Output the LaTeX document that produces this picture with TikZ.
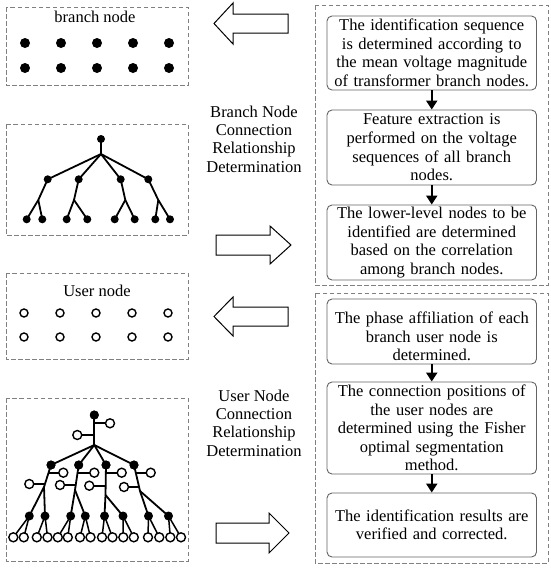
\documentclass[tikz,border=0pt]{standalone}
\usepackage{fontspec}
\setmainfont{Liberation Serif}
\usetikzlibrary{arrows.meta}
\definecolor{dashgray}{RGB}{128,128,128}
\definecolor{boxgray}{RGB}{100,100,100}
\tikzset{
  lbox/.style={draw=dashgray, line width=1pt, dash pattern=on 4.5pt off 2.5pt},
  ibox/.style={draw=boxgray, line width=0.9pt, rounded corners=5pt, minimum width=209.5pt,
    text width=205pt, align=center, inner sep=0pt, font=\fontsize{16.5}{18.6}\selectfont},
  ptext/.style={text width=205pt, align=center, inner sep=0pt, font=\fontsize{16.5}{18.6}\selectfont},
  midlabel/.style={align=center, inner sep=0pt, font=\fontsize{16.5}{18.4}\selectfont},
  title/.style={inner sep=0pt, font=\fontsize{16.5}{18.6}\selectfont},
  barrow/.style={draw=black, fill=white, line width=1pt, line join=miter},
  flow/.style={line width=2pt, -{Triangle[length=9pt,width=11pt]}},
  bigdot/.style={circle, fill=black, inner sep=0pt, minimum size=10pt},
  fdot/.style={circle, fill=black, inner sep=0pt, minimum size=8pt},
  gdot/.style={circle, fill=black, inner sep=0pt, minimum size=9pt},
  odot/.style={circle, draw=black, fill=white, line width=1.4pt, inner sep=0pt, minimum size=8pt},
  tline/.style={line width=1.8pt},
}
\begin{document}
\begin{tikzpicture}[x=1pt,y=-1pt]
\useasboundingbox (0,0) rectangle (550,568);
\fill[white] (0,0) rectangle (550,568);

% ---------- left dashed boxes ----------
\draw[lbox] (6,7) rectangle (188,85);
\draw[lbox] (6,124) rectangle (188,235);
\draw[lbox] (6,273) rectangle (188,359);
\draw[lbox] (6,398) rectangle (188,561);

% box 1: branch nodes
\node[title] (t1) at (95,17) {branch node};
\foreach \i/\x in {1/25,2/61,3/97,4/133,5/169}{
  \node[bigdot] (bn1\i) at (\x,43) {};
  \node[bigdot] (bn2\i) at (\x,68) {};
}

% box 3: user nodes
\node[title] (t3) at (97,291) {User node};
\foreach \i/\x in {1/24,2/60,3/96,4/132,5/168}{
  \node[odot] (un1\i) at (\x,313) {};
  \node[odot] (un2\i) at (\x,337) {};
}

% box 2: branch tree
\coordinate (bj) at (101,154);
\coordinate (bj1) at (38.3,200);
\coordinate (bj2) at (74,200);
\coordinate (bj3) at (125.3,200);
\coordinate (bj4) at (158.3,200);
\node[fdot] (br) at (101,139) {};
\node[fdot] (b1) at (47.7,179.3) {};
\node[fdot] (b2) at (78.7,179.3) {};
\node[fdot] (b3) at (120.7,179.3) {};
\node[fdot] (b4) at (148.3,179.3) {};
\node[fdot] (l11) at (26.7,219.3) {};
\node[fdot] (l12) at (42.3,219.3) {};
\node[fdot] (l21) at (66.7,219.3) {};
\node[fdot] (l22) at (87.3,219.3) {};
\node[fdot] (l31) at (114.7,219.3) {};
\node[fdot] (l32) at (134.7,219.3) {};
\node[fdot] (l41) at (155.3,219.3) {};
\node[fdot] (l42) at (170,219.3) {};
\draw[tline] (br.center) -- (bj);
\foreach \k in {1,2,3,4}{
  \draw[tline] (bj) -- (b\k.center) -- (bj\k);
  \draw[tline] (bj\k) -- (l\k1.center);
  \draw[tline] (bj\k) -- (l\k2.center);
}

% box 4: user tree
\coordinate (uj) at (94.3,445);
\coordinate (ja) at (44,487);
\coordinate (jb) at (75,490);
\coordinate (jc) at (105.5,495);
\coordinate (jd) at (140,491);
% attachment points on trunks
\coordinate (ur0) at (94.3,423.3);
\coordinate (ul0) at (94.3,435);
\coordinate (ar0) at (48.5,472.7);
\coordinate (al0) at (44.9,484);
\coordinate (br0) at (77.6,472.7);
\coordinate (bl0) at (75.7,485);
\coordinate (cr0) at (105.9,472.7);
\coordinate (cl0) at (105.6,485.7);
\coordinate (dr0) at (135.7,472.7);
\coordinate (dl0) at (138.9,487);

\node[gdot] (ur) at (94.3,415) {};
\node[gdot] (ua) at (51,465) {};
\node[gdot] (ub) at (78.7,465) {};
\node[gdot] (uc) at (106,465) {};
\node[gdot] (ud) at (134,465) {};
\foreach \n/\x in {a1/29.3,a2/45,b1/70.7,b2/85.3,c1/104.5,c2/123,d1/148.5,d2/168.5}{
  \node[gdot] (u\n) at (\x,516) {};
}
% trunk lines
\draw[tline] (ur.center) -- (uj);
\foreach \k in {a,b,c,d}{
  \draw[tline] (uj) -- (u\k.center) -- (j\k);
  \draw[tline] (j\k) -- (u\k1.center);
  \draw[tline] (j\k) -- (u\k2.center);
}
% side open circles
\foreach \n/\x/\y in {ur/110/423.3, ul/77.3/435, ar/63.3/472.7, al/29.3/484, br/94.3/472.7, bl/60/485, cr/121.7/472.7, cl/89.3/485.7, dr/150.7/472.7, dl/124/487}{
  \draw[tline] (\n0) -- (\x,\y);
  \node[odot, minimum size=9pt] (s\n) at (\x,\y) {};
}
% leaves
\foreach \n/\xa/\xb in {a1/13.3/23.8, a2/36.8/47.5, b1/57.8/67.8, b2/80/90.5, c1/102/112.5, c2/123.3/133.8, d1/148/159.3, d2/170.3/181}{
  \draw[line width=1.5pt] (u\n.center) -- (\xa,537.3);
  \draw[line width=1.5pt] (u\n.center) -- (\xb,537.3);
  \node[odot, minimum size=9pt] (lf\n1) at (\xa,537.3) {};
  \node[odot, minimum size=9pt] (lf\n2) at (\xb,537.3) {};
}
\node[gdot] at (ur) {};
\foreach \k in {a,b,c,d}{ \node[gdot] at (u\k) {}; }

% ---------- block arrows ----------
\draw[barrow] (288,14) -- (233,14) -- (233,3) -- (214,23.5) -- (233,44) -- (233,33) -- (288,33) -- cycle;
\draw[barrow] (216,235) -- (270,235) -- (270,226) -- (291,245) -- (270,264) -- (270,255) -- (216,255) -- cycle;
\draw[barrow] (288,307) -- (233,307) -- (233,297) -- (214,316.5) -- (233,336) -- (233,326) -- (288,326) -- cycle;
\draw[barrow] (216,523) -- (269,523) -- (269,513) -- (289,533) -- (269,553) -- (269,543) -- (216,543) -- cycle;

% ---------- middle labels ----------
\node[midlabel] (m1) at (254,139) {Branch Node\\Connection\\Relationship\\Determination};
\node[midlabel] (m2) at (254,423) {User Node\\Connection\\Relationship\\Determination};

% ---------- right dashed boxes ----------
\draw[lbox] (315,5) rectangle (548,285);
\draw[lbox] (315,293) rectangle (548,563);

\node[ibox, minimum height=74pt] (p1) at (431.75,53) {The identification sequence\\is determined according to\\the mean voltage magnitude\\of transformer branch nodes.};
\node[ibox, minimum height=75pt] (p2) at (431.75,147.5) {Feature extraction is\\performed on the voltage\\sequences of all branch\\nodes.};
\node[ibox, minimum height=75pt] (p3) at (431.75,242.5) {The lower-level nodes to be\\identified are determined\\based on the correlation\\among branch nodes.};
\draw[flow] (p1) -- (p2);
\draw[flow] (p2) -- (p3);

\node[ibox, minimum height=65pt] (q1) at (431.75,331.5) {};
\node[ptext] (q1t) at (431.75,336.5) {The phase affiliation of each\\branch user node is\\determined.};
\node[ibox, minimum height=92pt] (q2) at (431.75,428) {The connection positions of\\the user nodes are\\determined using the Fisher\\optimal segmentation\\method.};
\node[ibox, minimum height=64pt] (q3) at (431.75,525) {The identification results are\\verified and corrected.};
\draw[flow] (q1) -- (q2);
\draw[flow] (q2) -- (q3);
\end{tikzpicture}
\end{document}
